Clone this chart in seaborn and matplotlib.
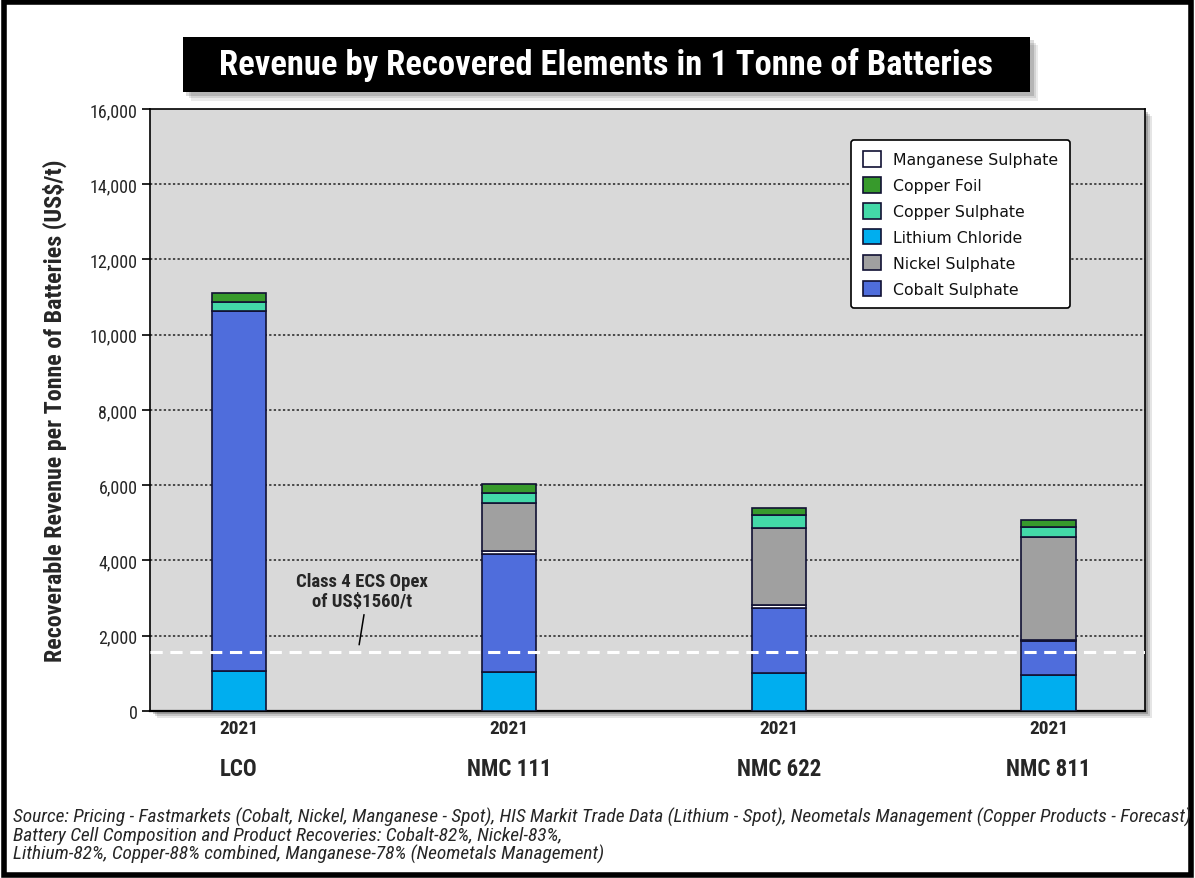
import numpy as np
import pandas as pd
import matplotlib.pyplot as plt
import seaborn as sns
from matplotlib.patches import Rectangle
from matplotlib import font_manager as fm

# values (US$/t), stacked bottom -> top
chemistries = ['LCO', 'NMC 111', 'NMC 622', 'NMC 811']
years = ['2021', '2021', '2021', '2021']
lithium = [1050, 1045, 1000, 965]
cobalt = [9580, 3120, 1730, 890]
manganese = [0, 90, 90, 20]
nickel = [0, 1270, 2055, 2750]
cu_sulphate = [240, 275, 340, 260]
cu_foil = [250, 230, 190, 190]
opex = 1560

sns.set_theme(style='white')
plt.rcParams['font.family'] = ['DejaVu Sans']

# pick a narrow font if one is around
fonts = fm.fontManager.ttflist
names = {f.name for f in fonts}
narrow = dict(family='DejaVu Sans')
for n in ['Liberation Sans Narrow', 'Roboto Condensed', 'Open Sans Condensed']:
    if n in names:
        narrow = dict(family=n)
        break
else:
    if any(f.name == 'DejaVu Sans' and 'condensed' in str(f.stretch) for f in fonts):
        narrow = dict(family='DejaVu Sans', fontstretch='condensed')

df = pd.DataFrame({'chem': chemistries, 'Lithium Chloride': lithium, 'Cobalt Sulphate': cobalt,
                   'Manganese Sulphate': manganese, 'Nickel Sulphate': nickel,
                   'Copper Sulphate': cu_sulphate, 'Copper Foil': cu_foil})
stack = ['Lithium Chloride', 'Cobalt Sulphate', 'Manganese Sulphate', 'Nickel Sulphate',
         'Copper Sulphate', 'Copper Foil']
colors = {'Lithium Chloride': '#00aeef', 'Cobalt Sulphate': '#4f6ddc', 'Manganese Sulphate': '#ffffff',
          'Nickel Sulphate': '#a0a0a0', 'Copper Sulphate': '#43d9a8', 'Copper Foil': '#379a2c'}

fig = plt.figure(figsize=(11.95, 8.79), dpi=100)
fig.patch.set_facecolor('white')
fig.patches.append(Rectangle((0.003, 0.003), 0.994, 0.994, transform=fig.transFigure,
                             fill=False, edgecolor='black', lw=4, zorder=0))

ax_l, ax_b, ax_w, ax_h = 0.1255, 0.19, 0.8325, 0.685
# drop shadow behind the plot area
for i, a in enumerate([0.10, 0.14, 0.20]):
    off = 0.006 - i * 0.0018
    fig.patches.append(Rectangle((ax_l + off, ax_b - off * 1.3), ax_w, ax_h, transform=fig.transFigure,
                                 facecolor='black', alpha=a, edgecolor='none', zorder=1))
ax = fig.add_axes([ax_l, ax_b, ax_w, ax_h])
ax.set_zorder(3)
ax.set_facecolor('#d9d9d9')

bottom = np.zeros(len(chemistries))
for name in stack:
    sns.barplot(data=df, x='chem', y=name, color=colors[name], saturation=1, bottom=bottom, width=0.202,
                edgecolor='#111133', linewidth=1.2, ax=ax, label=name, zorder=3)
    bottom = bottom + df[name].values

ax.axhline(opex, color='white', lw=2.2, ls=(0, (4, 2.5)), zorder=4)
ax.set_xlim(-0.33, 3.356)
ax.set_ylim(0, 16000)
ax.set_yticks(np.arange(0, 16001, 2000))
ax.set_yticklabels([f'{v:,}' for v in range(0, 16001, 2000)], fontsize=13, **narrow)
for v in range(2000, 16000, 2000):
    ax.axhline(v, color='#222222', lw=1.1, ls=(0, (1.5, 1.5)), zorder=1)
ax.tick_params(axis='y', which='both', left=True, length=6, width=1.2, color='black', pad=3)
ax.tick_params(axis='x', length=0, pad=6)
ax.set_xticks(range(len(chemistries)))
ax.set_xticklabels(years, fontsize=14, fontweight='bold', **narrow)
for i, c in enumerate(chemistries):
    ax.text(i, -0.095, c, transform=ax.get_xaxis_transform(), ha='center', va='center',
            fontsize=16.5, fontweight='bold', **narrow)
ax.set_xlabel('')
ylab = ax.set_ylabel('Recoverable Revenue per Tonne of Batteries (US$/t)', fontsize=14,
                     fontweight='bold', labelpad=16, **narrow)
for s in ax.spines.values():
    s.set_color('black')
    s.set_linewidth(1.2)
ax.spines['bottom'].set_linewidth(1.6)

ax.text(0.456, 2680, 'Class 4 ECS Opex\nof US$1560/t', ha='center', va='bottom',
        fontsize=13.5, fontweight='bold', linespacing=1.15, zorder=5, **narrow)
ax.plot([0.463, 0.445], [2560, 1760], color='black', lw=1.1, zorder=5)

handles, labels = ax.get_legend_handles_labels()
order = ['Manganese Sulphate', 'Copper Foil', 'Copper Sulphate', 'Lithium Chloride',
         'Nickel Sulphate', 'Cobalt Sulphate']
hmap = dict(zip(labels, handles))
leg = ax.legend([hmap[o] for o in order], order, loc='upper right', bbox_to_anchor=(0.933, 0.962),
                fontsize=11.3, frameon=True, fancybox=True, handlelength=1.15, handleheight=1.15,
                handletextpad=0.8, labelspacing=0.62, borderpad=0.75, edgecolor='black')
leg.get_frame().set_linewidth(1.2)
leg.get_frame().set_facecolor('white')
leg.get_frame().set_alpha(1)
leg.set_zorder(10)
for t in leg.get_texts():
    t.set_color('#111111')

# title box with shadow
tx, ty, tw, th = 0.153, 0.894, 0.709, 0.063
for i, a in enumerate([0.08, 0.10, 0.14]):
    off = 0.007 - i * 0.002
    fig.patches.append(Rectangle((tx + off, ty - off * 1.4), tw, th, transform=fig.transFigure,
                                 facecolor='black', alpha=a, edgecolor='none', zorder=1))
fig.patches.append(Rectangle((tx, ty), tw, th, transform=fig.transFigure, facecolor='black',
                             edgecolor='none', zorder=2))
title = fig.text(tx + tw / 2, ty + th / 2, 'Revenue by Recovered Elements in 1 Tonne of Batteries',
                 ha='center', va='center', color='white', fontsize=23, fontweight='bold', zorder=3, **narrow)

src = fig.text(0.011, 0.049,
               'Source: Pricing - Fastmarkets (Cobalt, Nickel, Manganese - Spot), HIS Markit Trade Data (Lithium - Spot), '
               'Neometals Management (Copper Products - Forecast)\n'
               'Battery Cell Composition and Product Recoveries: Cobalt-82%, Nickel-83%,\n'
               'Lithium-82%, Copper-88% combined, Manganese-78% (Neometals Management)',
               ha='left', va='center', fontsize=11.2, style='italic', linespacing=1.0, **narrow)


def fit_width(txt, target_px, use_height=False):
    r = fig.canvas.get_renderer()
    bb = txt.get_window_extent(r)
    w = bb.height if use_height else bb.width
    txt.set_fontsize(txt.get_fontsize() * target_px / w)


fit_width(title, 775)
fit_width(src, 1172)
fit_width(ylab, 505, use_height=True)

fig.savefig('out.png', dpi=100)
